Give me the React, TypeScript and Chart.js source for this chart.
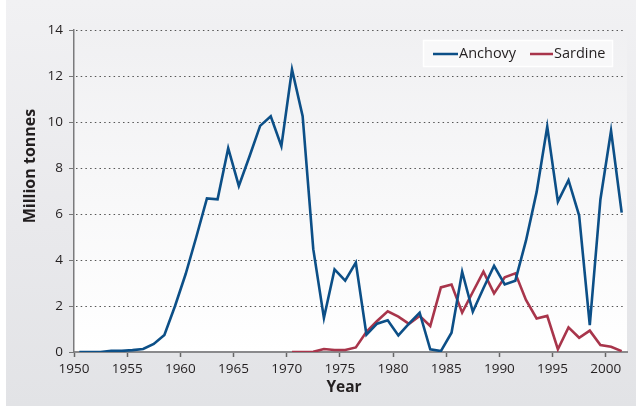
import { useEffect, useRef } from "react";
import { Chart, registerables } from "chart.js";

Chart.register(...registerables);

const years = [
  1950, 1951, 1952, 1953, 1954, 1955, 1956, 1957, 1958, 1959,
  1960, 1961, 1962, 1963, 1964, 1965, 1966, 1967, 1968, 1969,
  1970, 1971, 1972, 1973, 1974, 1975, 1976, 1977, 1978, 1979,
  1980, 1981, 1982, 1983, 1984, 1985, 1986, 1987, 1988, 1989,
  1990, 1991, 1992, 1993, 1994, 1995, 1996, 1997, 1998, 1999,
  2000, 2001,
];

const anchovy = [
  0, 0, 0, 0.05, 0.05, 0.08, 0.13, 0.35, 0.74, 2.0,
  3.39, 5.0, 6.68, 6.64, 8.86, 7.22, 8.5, 9.83, 10.25, 8.95,
  12.28, 10.25, 4.47, 1.48, 3.59, 3.1, 3.89, 0.75, 1.23, 1.38,
  0.72, 1.23, 1.71, 0.12, 0.04, 0.84, 3.49, 1.75, 2.77, 3.75,
  2.94, 3.1, 4.84, 6.95, 9.8, 6.54, 7.47, 5.93, 1.17, 6.63,
  9.62, 6.06,
];

const sardine = [
  null, null, null, null, null, null, null, null, null, null,
  null, null, null, null, null, null, null, null, null, null,
  0, 0, 0.01, 0.13, 0.09, 0.09, 0.2, 0.88, 1.35, 1.77,
  1.54, 1.22, 1.57, 1.13, 2.81, 2.93, 1.71, 2.61, 3.49, 2.55,
  3.25, 3.42, 2.26, 1.46, 1.57, 0.12, 1.07, 0.62, 0.93, 0.3,
  0.23, 0.04,
];

const seriesLabels = ["Anchovy", "Sardine"];
const seriesColors = ["#0c4f87", "#a8354b"];
const xTickYears = [1950, 1955, 1960, 1965, 1970, 1975, 1980, 1985, 1990, 1995, 2000];
const yTickValues = [0, 2, 4, 6, 8, 10, 12, 14];
const xTitle = "Year";
const yTitle = "Million tonnes";

const FONT = "'Open Sans', 'Noto Sans', sans-serif";
const TEXT = "#231f20";

const decorPlugin = {
  id: "decor",
  beforeDraw(chart: any) {
    const { ctx, chartArea: a } = chart;
    ctx.save();
    const g = ctx.createLinearGradient(0, a.top, 0, a.bottom);
    g.addColorStop(0, "#f0f0f2");
    g.addColorStop(1, "#ffffff");
    ctx.fillStyle = g;
    ctx.fillRect(a.left, a.top, a.right - a.left, a.bottom - a.top);
    ctx.restore();
  },
  beforeDatasetsDraw(chart: any) {
    const { ctx, chartArea: a } = chart;
    const ys = chart.scales.y;
    ctx.save();
    ctx.strokeStyle = "#555";
    ctx.lineWidth = 1;
    ctx.setLineDash([1.5, 3.2]);
    yTickValues.forEach((v) => {
      if (v === 0) return;
      const py = Math.round(ys.getPixelForValue(v)) + 0.5;
      ctx.beginPath();
      ctx.moveTo(a.left + 2, py);
      ctx.lineTo(a.right - 4, py);
      ctx.stroke();
    });
    ctx.restore();
  },
  afterDraw(chart: any) {
    const { ctx } = chart;
    ctx.save();
    // legend box
    const bx = 417, by = 40, bw = 190, bh = 27;
    ctx.fillStyle = "#f8f8f9";
    ctx.fillRect(bx, by, bw, bh);
    ctx.strokeStyle = "#ffffff";
    ctx.lineWidth = 1.5;
    ctx.strokeRect(bx + 0.5, by + 0.5, bw - 1, bh - 1);
    const ly = by + bh / 2 + 0.5;
    const items = [
      { x1: 427, x2: 452 },
      { x1: 524, x2: 547 },
    ];
    ctx.font = `14.5px ${FONT}`;
    ctx.textBaseline = "middle";
    ctx.textAlign = "left";
    items.forEach((it, i) => {
      ctx.strokeStyle = seriesColors[i];
      ctx.lineWidth = 2.5;
      ctx.beginPath();
      ctx.moveTo(it.x1, ly);
      ctx.lineTo(it.x2, ly);
      ctx.stroke();
      ctx.fillStyle = TEXT;
      ctx.fillText(seriesLabels[i], it.x2 + 1, ly);
    });
    // axis titles
    ctx.fillStyle = TEXT;
    ctx.font = `bold 15.5px ${FONT}`;
    ctx.textAlign = "center";
    ctx.textBaseline = "middle";
    ctx.fillText(xTitle, 338, 388);
    ctx.font = `bold 16px ${FONT}`;
    ctx.translate(24, 166);
    ctx.rotate(-Math.PI / 2);
    ctx.fillText(yTitle, 0, 0);
    ctx.restore();
  },
};

export default function App() {
  const ref = useRef<HTMLCanvasElement | null>(null);

  useEffect(() => {
    if (!ref.current) return;
    const toPoints = (vals: (number | null)[]) =>
      years.map((yr, i) => ({ x: yr + 0.5, y: vals[i] }));
    const chart = new Chart(ref.current, {
      type: "line",
      data: {
        datasets: [
          {
            label: seriesLabels[0],
            data: toPoints(anchovy) as any,
            borderColor: seriesColors[0],
            borderWidth: 2.6,
            pointRadius: 0,
            tension: 0,
            spanGaps: false,
          },
          {
            label: seriesLabels[1],
            data: toPoints(sardine) as any,
            borderColor: seriesColors[1],
            borderWidth: 2.6,
            pointRadius: 0,
            tension: 0,
            spanGaps: false,
          },
        ],
      },
      options: {
        animation: false,
        responsive: false,
        maintainAspectRatio: false,
        devicePixelRatio: 1,
        layout: { padding: { left: 0, right: 9, top: 30, bottom: 0 } },
        plugins: {
          legend: { display: false },
          tooltip: { enabled: false },
          title: { display: false },
        },
        scales: {
          x: {
            type: "linear",
            min: 1950,
            max: 2002,
            afterBuildTicks: (s: any) => {
              s.ticks = xTickYears.map((v) => ({ value: v }));
            },
            afterFit: (s: any) => {
              s.height = 54;
            },
            ticks: {
              stepSize: 5,
              padding: 4,
              color: TEXT,
              font: { family: FONT, size: 13.5 },
              maxRotation: 0,
              callback: (v: any) => String(v),
            },
            grid: {
              display: true,
              drawOnChartArea: false,
              drawTicks: true,
              tickLength: 5,
              tickColor: "#666",
              tickWidth: 1.5,
            },
            border: { display: true, color: "#8a8a8c", width: 2 },
          },
          y: {
            type: "linear",
            min: 0,
            max: 14,
            afterBuildTicks: (s: any) => {
              s.ticks = yTickValues.map((v) => ({ value: v }));
            },
            afterFit: (s: any) => {
              s.width = 68;
            },
            ticks: {
              stepSize: 2,
              padding: 6,
              color: TEXT,
              font: { family: FONT, size: 13.5 },
            },
            grid: {
              display: true,
              drawOnChartArea: false,
              drawTicks: true,
              tickLength: 5,
              tickColor: "#777",
              tickWidth: 1,
            },
            border: { display: true, color: "#7a7a7c", width: 1.5 },
          },
        },
      },
      plugins: [decorPlugin],
    });
    return () => chart.destroy();
  }, []);

  return (
    <div
      style={{
        position: "fixed",
        left: 0,
        top: 0,
        width: 636,
        height: 406,
        background: "#ffffff",
        overflow: "hidden",
      }}
    >
      <div
        style={{
          position: "absolute",
          left: 6,
          top: 0,
          width: 630,
          height: 406,
          background: "linear-gradient(to bottom, #f1f1f3 0%, #e9e9ec 55%, #e2e3e6 100%)",
        }}
      >
        <canvas ref={ref} width={630} height={406} style={{ display: "block", width: 630, height: 406 }} />
      </div>
    </div>
  );
}
